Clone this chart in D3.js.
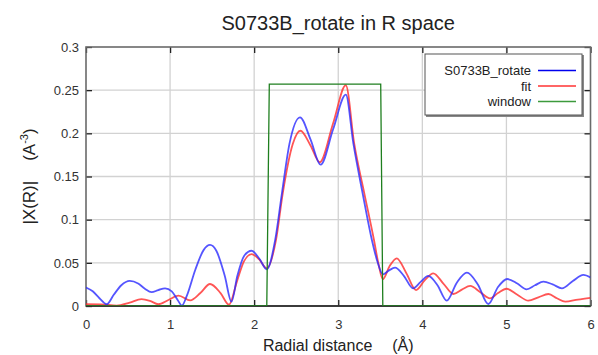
<!DOCTYPE html>
<html><head><meta charset="utf-8">
<script src="https://cdn.jsdelivr.net/npm/d3@7"></script>
<style>body{margin:0;background:#fff}svg{display:block;font-family:"Liberation Sans",Arial,sans-serif}</style>
</head><body><svg id="c" width="598" height="355"></svg>
<script>
const title = "S0733B_rotate in R space";
const xTicks = [0,1,2,3,4,5,6];
const yTicks = [0,0.05,0.1,0.15,0.2,0.25,0.3];
const yTickLabels = ["0","0.05","0.1","0.15","0.2","0.25","0.3"];
const seriesNames = ["S0733B_rotate","fit","window"];

const dataR = [0,0.08,0.16,0.246,0.33,0.42,0.52,0.62,0.70,0.78,0.86,0.94,1.02,1.09,1.14,1.20,1.30,1.40,1.475,1.55,1.65,1.73,1.80,1.88,1.97,2.06,2.15,2.25,2.33,2.42,2.545,2.67,2.79,2.94,3.09,3.18,3.29,3.40,3.47,3.53,3.60,3.675,3.78,3.89,3.98,4.07,4.18,4.29,4.41,4.53,4.66,4.785,4.90,5.01,5.13,5.24,5.34,5.44,5.55,5.66,5.79,5.915,6.0];
const dataV = [0.0215,0.017,0.009,0.002,0.013,0.024,0.029,0.026,0.020,0.016,0.0185,0.0205,0.017,0.007,0.0005,0.012,0.042,0.065,0.0707,0.064,0.035,0.005,0.035,0.058,0.064,0.055,0.0425,0.0765,0.1305,0.188,0.2186,0.193,0.1637,0.205,0.2448,0.188,0.1305,0.0765,0.050,0.0367,0.041,0.0444,0.035,0.0205,0.028,0.0348,0.024,0.0062,0.027,0.0386,0.025,0.0023,0.022,0.0313,0.026,0.0193,0.024,0.0282,0.025,0.0205,0.029,0.036,0.033];

const fitR = [0,0.18,0.365,0.52,0.66,0.76,0.86,0.98,1.1,1.24,1.36,1.475,1.60,1.70,1.80,1.88,1.97,2.06,2.15,2.26,2.34,2.46,2.55,2.67,2.78,2.94,3.09,3.19,3.31,3.425,3.48,3.53,3.61,3.695,3.81,3.925,4.03,4.13,4.25,4.37,4.47,4.57,4.69,4.805,4.90,5.0,5.13,5.26,5.38,5.50,5.60,5.70,5.85,6.0];
const fitV = [0.002,0.0018,0.0005,0.004,0.008,0.006,0.002,0.007,0.012,0.0065,0.015,0.0255,0.015,0.0015,0.03,0.052,0.06,0.054,0.0437,0.0765,0.1305,0.188,0.203,0.186,0.1665,0.212,0.2557,0.188,0.1305,0.0765,0.048,0.031,0.046,0.0552,0.038,0.0185,0.030,0.0379,0.026,0.0139,0.019,0.0232,0.016,0.0089,0.015,0.020,0.013,0.0062,0.010,0.0139,0.009,0.005,0.0075,0.0095];

const winR = [0,2.15,2.18,3.505,3.53,6];
const winV = [0,0,0.257,0.257,0,0];

(function(){
const L = 86, R = 590.5, T = 47, B = 306;
const svg = d3.select("#c");
const x = d3.scaleLinear().domain([0,6]).range([L,R]);
const y = d3.scaleLinear().domain([0,0.3]).range([B,T]);

// grid
const g = svg.append("g");
g.selectAll(".gx").data(xTicks.slice(1,-1)).join("line")
  .attr("x1",d=>x(d)).attr("x2",d=>x(d)).attr("y1",T).attr("y2",B)
  .attr("stroke","#d2d2d2").attr("stroke-width",1.3);
g.selectAll(".gy").data(yTicks.slice(1,-1)).join("line")
  .attr("y1",d=>y(d)).attr("y2",d=>y(d)).attr("x1",L).attr("x2",R)
  .attr("stroke","#d2d2d2").attr("stroke-width",1.3);

// axes
const ax = (a)=>a.tickSizeOuter(0);
const axL = svg.append("g").attr("transform",`translate(${L},0)`)
  .call(ax(d3.axisLeft(y).tickValues(yTicks).tickFormat((d,i)=>yTickLabels[i]).tickSizeInner(-6).tickPadding(7)));
const axB = svg.append("g").attr("transform",`translate(0,${B})`)
  .call(ax(d3.axisBottom(x).tickValues(xTicks).tickFormat(d3.format("d")).tickSizeInner(-6).tickPadding(14)));
const axT = svg.append("g").attr("transform",`translate(0,${T})`)
  .call(ax(d3.axisTop(x).tickValues(xTicks).tickFormat("").tickSizeInner(-6)));
const axR = svg.append("g").attr("transform",`translate(${R},0)`)
  .call(ax(d3.axisRight(y).tickValues(yTicks).tickFormat("").tickSizeInner(-6)));
[axL,axB,axT,axR].forEach(a=>{
  a.select(".domain").remove();
  a.selectAll(".tick line").attr("stroke","#222").attr("stroke-width",1.3);
  a.selectAll(".tick text").attr("fill","#333").style("font-size","13px").style("font-family","'Liberation Sans',Arial,sans-serif");
});

// frame
svg.append("rect").attr("x",L).attr("y",T).attr("width",R-L).attr("height",B-T)
  .attr("fill","none").attr("stroke","#6a6a6a").attr("stroke-width",1.6);
svg.append("line").attr("x1",L).attr("x2",R).attr("y1",B).attr("y2",B).attr("stroke","#222").attr("stroke-width",1.5);

// curves
const line = d3.line().x(d=>x(d[0])).y(d=>y(d[1])).curve(d3.curveMonotoneX);
svg.append("clipPath").attr("id","pc").append("rect").attr("x",L).attr("y",T).attr("width",R-L).attr("height",B-T);
const cg = svg.append("g").attr("clip-path","url(#pc)");
cg.append("path").attr("d",line(fitR.map((r,i)=>[r,fitV[i]]))).attr("fill","none")
  .attr("stroke","#ff2a2a").attr("stroke-opacity",0.8).attr("stroke-width",1.8);
cg.append("path").attr("d",line(dataR.map((r,i)=>[r,dataV[i]]))).attr("fill","none")
  .attr("stroke","#2a2aff").attr("stroke-opacity",0.8).attr("stroke-width",1.8);
cg.append("path").attr("d",d3.line().x(d=>x(d[0])).y(d=>y(d[1]))(winR.map((r,i)=>[r,winV[i]]))).attr("fill","none")
  .attr("stroke","#1f7f1f").attr("stroke-width",1.3);

// legend
const lg = svg.append("g");
lg.append("rect").attr("x",426).attr("y",55).attr("width",158).attr("height",62).attr("fill","#888");
lg.append("rect").attr("x",425).attr("y",54).attr("width",157).attr("height",61).attr("fill","#fff").attr("stroke","#555").attr("stroke-width",1);
const lcol = ["#0000ee","#ff3333","#3c9a3c"];
seriesNames.forEach((n,i)=>{
  const yy = 70.5 + i*15.5;
  lg.append("text").attr("x",531).attr("y",yy+4.5).attr("text-anchor","end").attr("fill","#222")
    .style("font-size","13px").text(n);
  lg.append("line").attr("x1",538).attr("x2",576).attr("y1",yy).attr("y2",yy).attr("stroke",lcol[i]).attr("stroke-width",1.4);
});

// titles
svg.append("text").attr("x",(L+R)/2).attr("y",30).attr("text-anchor","middle").attr("fill","#222")
  .style("font-size","20px").text(title);
const xt = svg.append("text").attr("x",(L+R)/2).attr("y",351).attr("text-anchor","middle").attr("fill","#222").style("font-size","16px");
xt.append("tspan").text("Radial distance");
xt.append("tspan").attr("dx",20).text("(Å)");
const yt = svg.append("text").attr("transform",`translate(35,${(T+B)/2}) rotate(-90)`).attr("text-anchor","middle").attr("fill","#222").style("font-size","17px");
yt.append("tspan").text("|X(R)|");
yt.append("tspan").attr("dx",20).text("(A");
yt.append("tspan").attr("dy",-7).style("font-size","11px").text("-3");
yt.append("tspan").attr("dy",7).text(")");
})();
</script></body></html>
